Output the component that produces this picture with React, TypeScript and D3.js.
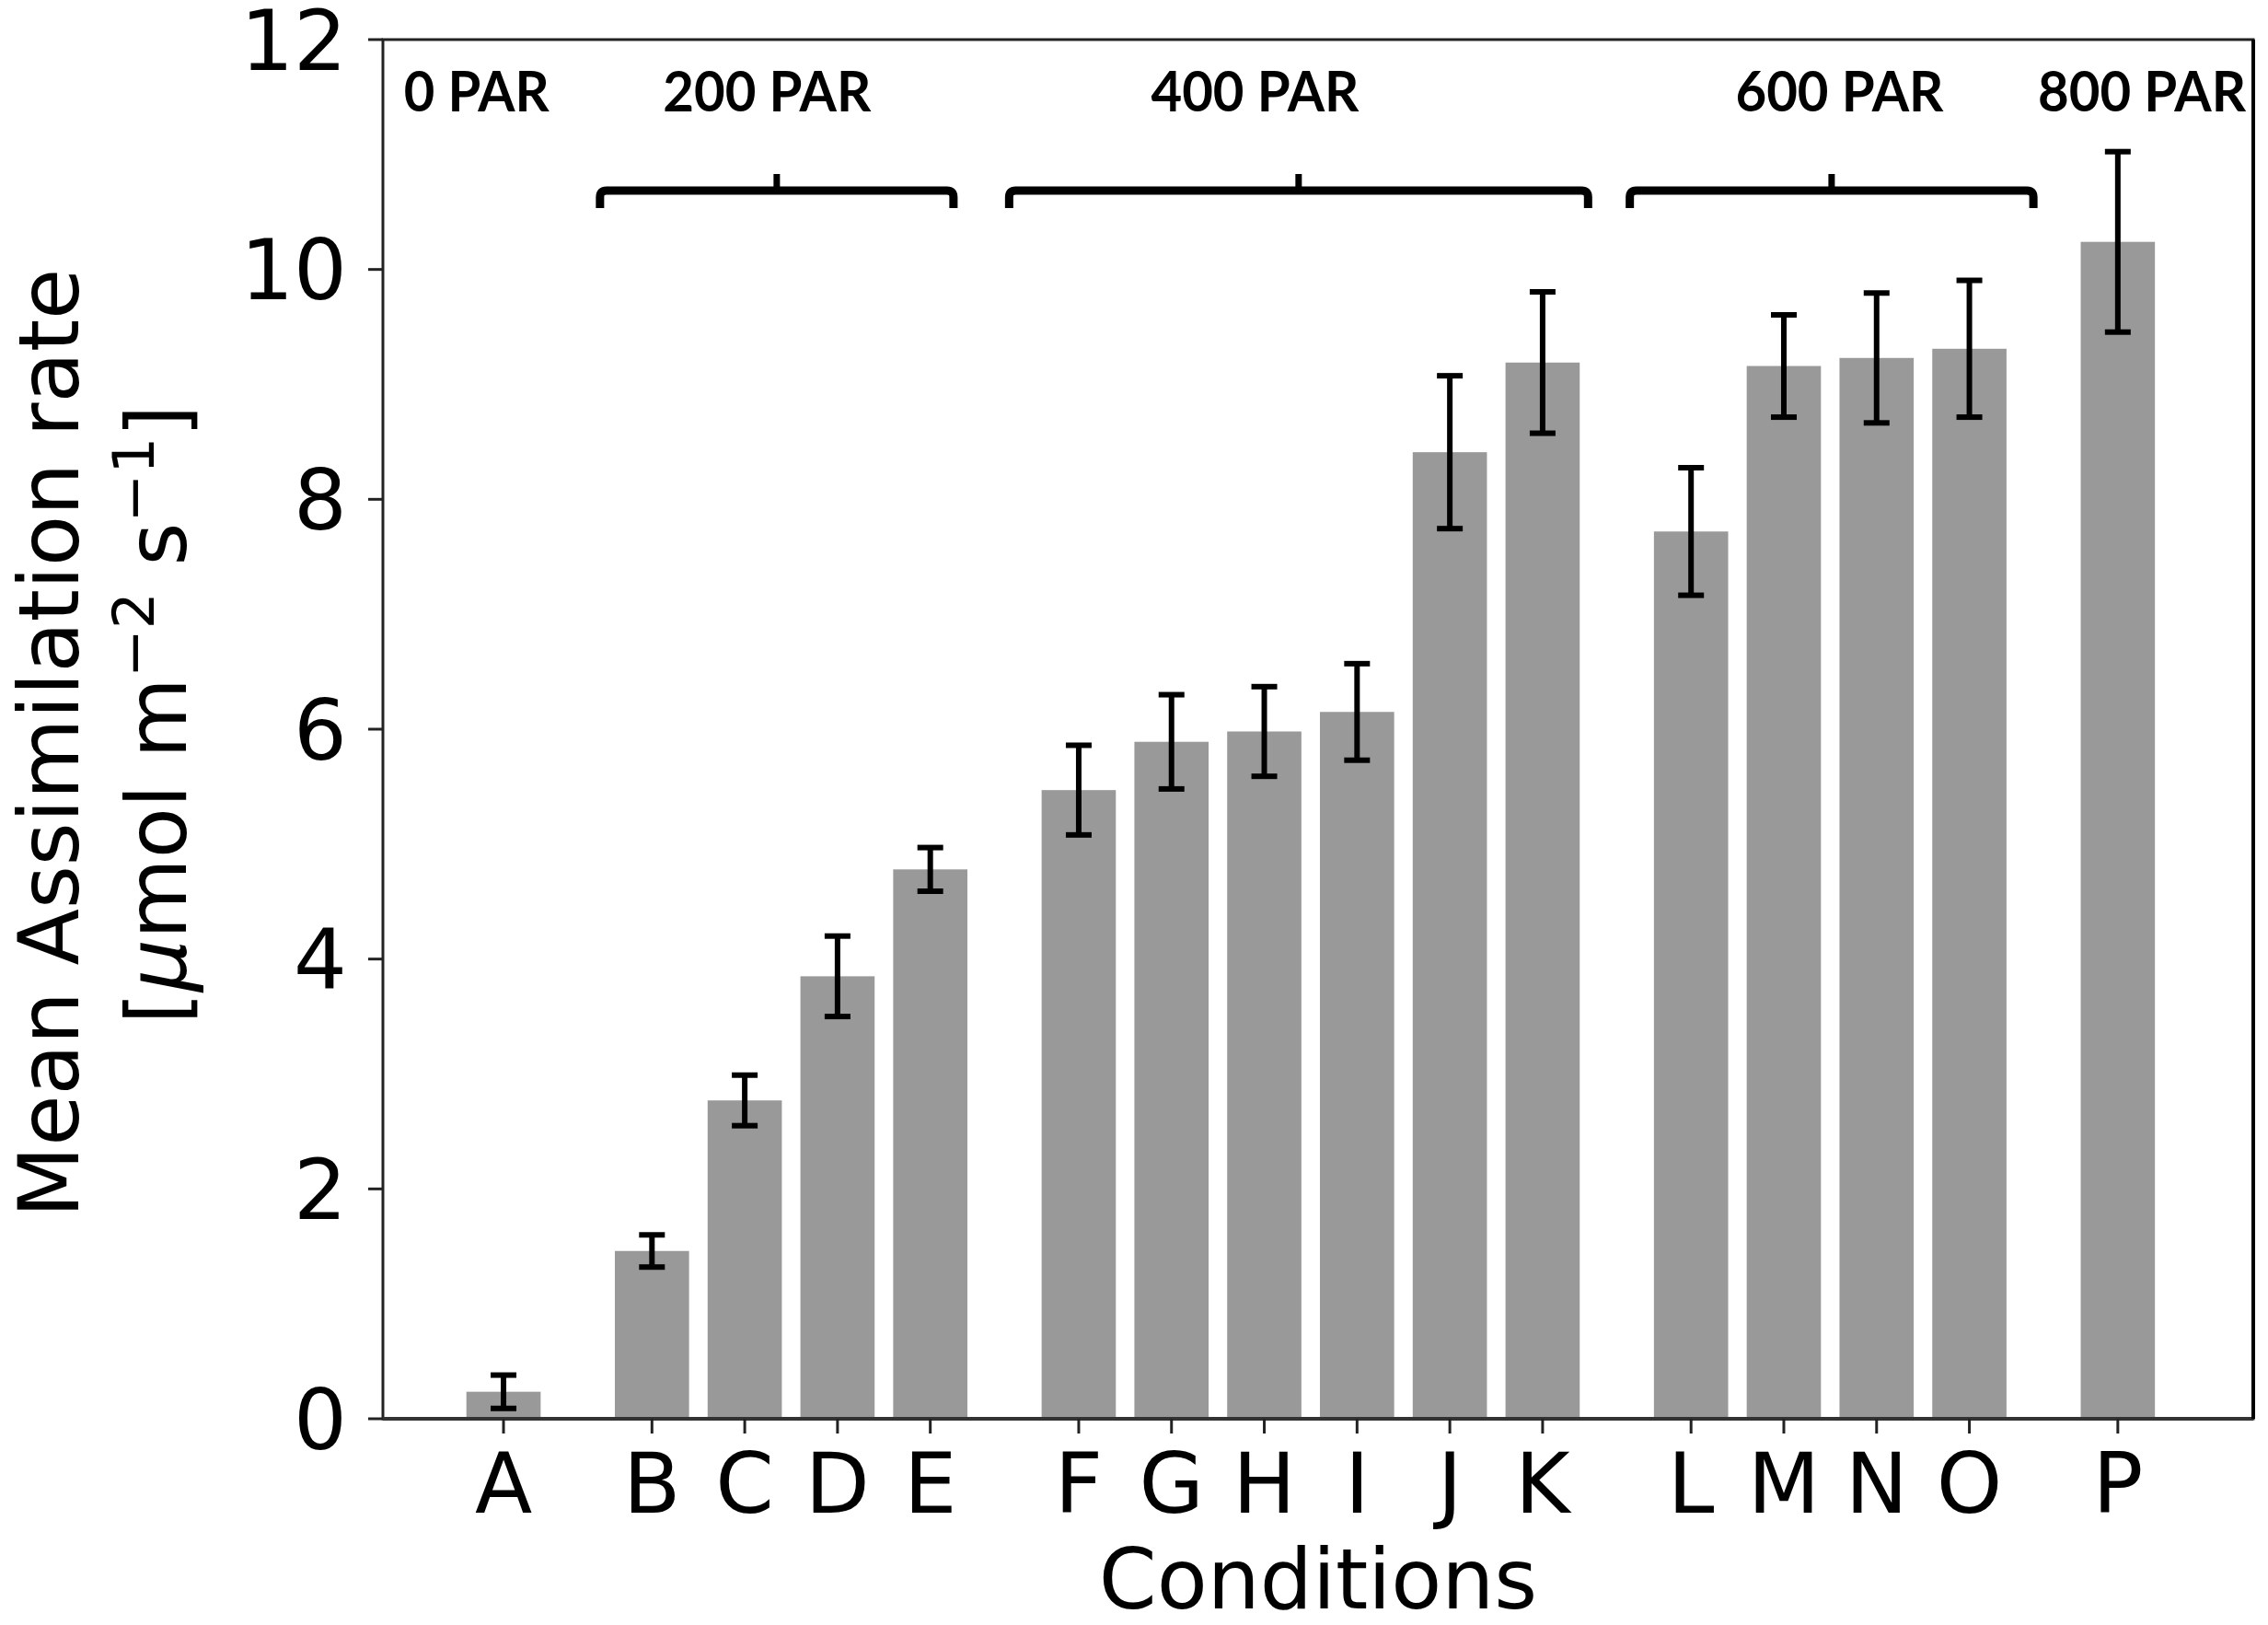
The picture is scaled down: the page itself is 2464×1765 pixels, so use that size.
import React from 'react';
import * as d3 from 'd3';

// Data
const conditions = ['A', 'B', 'C', 'D', 'E', 'F', 'G', 'H', 'I', 'J', 'K', 'L', 'M', 'N', 'O', 'P'];
const positions = [0, 1.6, 2.6, 3.6, 4.6, 6.2, 7.2, 8.2, 9.2, 10.2, 11.2, 12.8, 13.8, 14.8, 15.8, 17.4];
const means = [0.235, 1.46, 2.77, 3.85, 4.78, 5.47, 5.89, 5.98, 6.15, 8.41, 9.19, 7.72, 9.16, 9.23, 9.31, 10.24];
const errors = [0.145, 0.14, 0.22, 0.35, 0.19, 0.39, 0.41, 0.39, 0.42, 0.665, 0.615, 0.555, 0.445, 0.565, 0.595, 0.785];
const yTicks = [0, 2, 4, 6, 8, 10, 12];

const parLabels = ['0 PAR', '200 PAR', '400 PAR', '600 PAR', '800 PAR'];
const parLabelX = [-0.29, 2.84, 8.1, 14.4, 17.66];
const bracketStart = [1.04, 5.45, 12.14];
const bracketEnd = [4.85, 11.69, 16.49];

const W = 2464;
const H = 1765;
const left = 416, right = 2448, top = 43, bottom = 1541;

const x = d3.scaleLinear().domain([-1.3, 18.86]).range([left, right]);
const y = d3.scaleLinear().domain([0, 12]).range([bottom, top]);
const barW = x(0.8) - x(0);

const font = "'DejaVu Sans', sans-serif";

export default function App() {
  return (
    <div style={{ position: 'absolute', left: 0, top: 0, background: '#fff' }}>
      <svg width={W} height={H} viewBox={`0 0 ${W} ${H}`}>
        <rect width={W} height={H} fill="#fff" />

        {/* bars */}
        {means.map((m, i) => (
          <rect key={'b' + i} x={x(positions[i]) - barW / 2} y={y(m)} width={barW}
            height={y(0) - y(m)} fill="#999999" />
        ))}

        {/* error bars */}
        {means.map((m, i) => {
          const cx = x(positions[i]);
          const y0 = y(m - errors[i]);
          const y1 = y(m + errors[i]);
          return (
            <g key={'e' + i} stroke="#000" strokeWidth={6}>
              <line x1={cx} x2={cx} y1={y0} y2={y1} />
              <line x1={cx - 14} x2={cx + 14} y1={y0} y2={y0} />
              <line x1={cx - 14} x2={cx + 14} y1={y1} y2={y1} />
            </g>
          );
        })}

        {/* frame */}
        <rect x={left} y={top} width={right - left} height={bottom - top} fill="none" stroke="#222" strokeWidth={3} />
        <line x1={left} x2={right} y1={bottom} y2={bottom} stroke="#333" strokeWidth={4} />
        <line x1={right} x2={right} y1={top} y2={bottom} stroke="#000" strokeWidth={4} />

        {/* y axis */}
        {yTicks.map(t => (
          <g key={'y' + t}>
            <line x1={left - 16} x2={left} y1={y(t)} y2={y(t)} stroke="#222" strokeWidth={3} />
            <text x={left - 39} y={y(t)} dy="0.36em" textAnchor="end" fontFamily={font} fontSize={91} fill="#000">{t}</text>
          </g>
        ))}

        {/* x axis */}
        {conditions.map((c, i) => (
          <g key={'x' + c}>
            <line x1={x(positions[i])} x2={x(positions[i])} y1={bottom} y2={bottom + 16} stroke="#222" strokeWidth={3} />
            <text x={x(positions[i])} y={1643} textAnchor="middle" fontFamily={font} fontSize={91} fill="#000">{c}</text>
          </g>
        ))}

        <text x={(left + right) / 2} y={1747} textAnchor="middle" fontFamily={font} fontSize={90} fill="#000">Conditions</text>

        {/* y label */}
        <text transform="translate(85,807) rotate(-90)" textAnchor="middle" fontFamily={font} fontSize={90} fill="#000">Mean Assimilation rate</text>
        <text transform="translate(202,776) rotate(-90)" textAnchor="middle" fontFamily={font} fontSize={90} fill="#000">
          [<tspan fontStyle="italic">μ</tspan>mol m<tspan fontSize={63} dy={-35}>−2</tspan><tspan dy={35}> s</tspan><tspan fontSize={63} dy={-35}>−1</tspan><tspan dy={35}>]</tspan>
        </text>

        {/* PAR group labels */}
        {parLabels.map((l, i) => (
          <text key={l} x={x(parLabelX[i])} y={121} textAnchor="middle" fontFamily="Lato, sans-serif"
            fontWeight="bold" fontSize={62} fill="#000"
            textLength={l.length === 5 ? 158 : 226} lengthAdjust="spacingAndGlyphs">{l}</text>
        ))}

        {/* brackets */}
        {bracketStart.map((s, i) => {
          const x0 = x(s), x1 = x(bracketEnd[i]), xc = (x0 + x1) / 2;
          return (
            <g key={'br' + i} fill="none" stroke="#000">
              <path d={`M${x0},226 L${x0},214 Q${x0},207 ${x0 + 7},207 L${x1 - 7},207 Q${x1},207 ${x1},214 L${x1},226`} strokeWidth={9} />
              <line x1={xc} x2={xc} y1={207} y2={189} strokeWidth={7} />
            </g>
          );
        })}
      </svg>
    </div>
  );
}
